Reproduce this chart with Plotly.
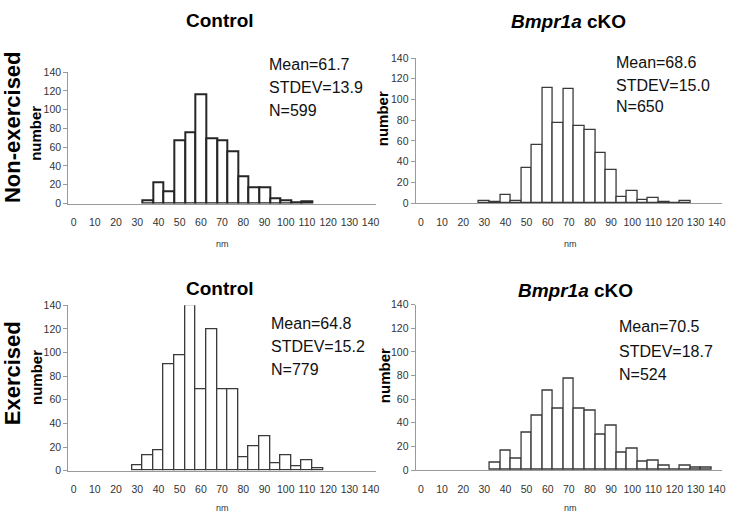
import plotly.graph_objects as go

W, H = 731, 520

# ---- data (bin centres in nm, counts) ----
bins_ctrl_ne = [35, 40, 45, 50, 55, 60, 65, 70, 75, 80, 85, 90, 95, 100, 105, 110]
cnt_ctrl_ne = [4, 23, 13, 68, 76, 117, 70, 68, 56, 29, 17, 17, 6, 4, 2, 3]

bins_ko_ne = [30, 35, 40, 45, 50, 55, 60, 65, 70, 75, 80, 85, 90, 95, 100, 105, 110, 115, 120, 125]
cnt_ko_ne = [2, 1, 8, 2, 34, 56, 111, 77, 110, 74, 70, 48, 32, 6, 12, 3, 5, 1, 0, 2]

bins_ctrl_ex = [30, 35, 40, 45, 50, 55, 60, 65, 70, 75, 80, 85, 90, 95, 100, 105, 110, 115]
cnt_ctrl_ex = [5, 13, 17, 90, 98, 140, 69, 120, 69, 69, 11, 21, 29, 6, 13, 4, 9, 2]

bins_ko_ex = [35, 40, 45, 50, 55, 60, 65, 70, 75, 80, 85, 90, 95, 100, 105, 110, 115, 120, 125, 130, 135]
cnt_ko_ex = [6, 16, 10, 32, 46, 67, 52, 77, 52, 50, 30, 38, 15, 18, 7, 8, 4, 0, 4, 2, 2]

x_ticks = [0, 10, 20, 30, 40, 50, 60, 70, 80, 90, 100, 110, 120, 130, 140]
y_ticks = [0, 20, 40, 60, 80, 100, 120, 140]

titles = ["<b>Control</b>", "<b><i>Bmpr1a</i> cKO</b>", "<b>Control</b>", "<b><i>Bmpr1a</i> cKO</b>"]
stats = [
    ["Mean=61.7", "STDEV=13.9", "N=599"],
    ["Mean=68.6", "STDEV=15.0", "N=650"],
    ["Mean=64.8", "STDEV=15.2", "N=779"],
    ["Mean=70.5", "STDEV=18.7", "N=524"],
]
row_labels = ["Non-exercised", "Exercised"]

NARROW = "Liberation Sans Narrow, Arial Narrow, Liberation Sans, Arial, sans-serif"
BOLD = "Liberation Sans, Arial, sans-serif"

def px_x(x):
    return x / W

def px_y(y):
    return 1 - y / H

# panel boxes in pixels: (left, right, top, bottom)
boxes = [
    (68.7, 378.0, 67.7, 202.2),
    (418.0, 726.0, 53.3, 201.7),
    (68.7, 378.0, 306.3, 475.7),
    (418.0, 726.0, 305.7, 475.0),
]

series = [
    (bins_ctrl_ne, cnt_ctrl_ne, "#262626", 2.0),
    (bins_ko_ne, cnt_ko_ne, "#3a3a3a", 1.3),
    (bins_ctrl_ex, cnt_ctrl_ex, "#3a3a3a", 1.3),
    (bins_ko_ex, cnt_ko_ex, "#3a3a3a", 1.3),
]

fig = go.Figure()
layout = dict(
    width=W, height=H, autosize=False,
    margin=dict(l=0, r=0, t=0, b=0),
    paper_bgcolor="white", plot_bgcolor="white",
    showlegend=False, bargap=0,
)

for i, ((bx, cy, lc, lw), (l, r, t, b)) in enumerate(zip(series, boxes)):
    n = "" if i == 0 else str(i + 1)
    fig.add_trace(go.Bar(
        x=bx, y=cy, width=5,
        marker=dict(color="white", line=dict(color=lc, width=lw)),
        xaxis="x" + n, yaxis="y" + n, hoverinfo="x+y", cliponaxis=True,
    ))
    layout["xaxis" + n] = dict(
        domain=[px_x(l), px_x(r)], range=[-2.5, 142.5], anchor="y" + n,
        tickmode="array", tickvals=x_ticks, ticktext=[str(v) for v in x_ticks],
        tickangle=0,
        showline=True, linecolor="#9a9a9a", linewidth=1.2, showgrid=False,
        zeroline=False, ticks="outside", ticklen=9, tickcolor="rgba(0,0,0,0)",
        tickfont=dict(family=NARROW, size=10.5, color="#333333"),
        fixedrange=True,
    )
    layout["yaxis" + n] = dict(
        domain=[px_y(b), px_y(t)], range=[0, 140], anchor="x" + n,
        tickmode="array", tickvals=y_ticks, ticktext=[str(v) for v in y_ticks],
        showline=True, linecolor="#9a9a9a", linewidth=1.2, showgrid=False,
        zeroline=False, ticks="outside", ticklen=4, tickcolor="#9a9a9a", tickwidth=1,
        tickfont=dict(family=NARROW, size=10.5, color="#333333"),
        fixedrange=True,
    )

fig.update_layout(**layout)

ann = []
def add(text, x, y, size, family, xanchor="center", textangle=0, color="black"):
    ann.append(dict(text=text, x=px_x(x), y=px_y(y), xref="paper", yref="paper",
                    showarrow=False, xanchor=xanchor, yanchor="middle",
                    textangle=textangle, font=dict(size=size, family=family, color=color)))

# titles
title_pos = [(221, 15), (572, 16), (221, 289), (579, 291)]
for txt, (x, y) in zip(titles, title_pos):
    add(txt, x, y, 19, BOLD)

# stats
stat_pos = [
    (268, [60, 83, 106.5]),
    (617, [58.3, 81.7, 103.3]),
    (270, [325, 348.3, 371.7]),
    (620, [328.3, 353.3, 376.7]),
]
for lines, (x, ys) in zip(stats, stat_pos):
    for txt, y in zip(lines, ys):
        add(txt, x, y, 16, NARROW, xanchor="left", color="#111111")

# y-axis titles
num_pos = [(35, 130), (384, 115), (36, 380), (386, 378)]
for x, y in num_pos:
    add("<b>number</b>", x, y, 15, BOLD, textangle=-90)

# x-axis titles
nm_pos = [(224, 244), (574, 244), (224, 514), (574, 514)]
for x, y in nm_pos:
    add("nm", x, y, 9, NARROW, color="#333333")

# row labels
add("<b>" + row_labels[0] + "</b>", 12, 124, 22, BOLD, textangle=-90)
add("<b>" + row_labels[1] + "</b>", 12, 376, 22, BOLD, textangle=-90)

fig.update_layout(annotations=ann)

fix_page = (
    "document.documentElement.style.margin='0';"
    "document.documentElement.style.overflow='hidden';"
    "document.body.style.margin='0';"
    "document.body.style.overflow='hidden';"
    "document.body.style.height='520px';"
    "var gd=document.querySelector('.plotly-graph-div');"
    "if(gd&&gd.parentElement){gd.parentElement.style.height='520px';"
    "gd.parentElement.style.lineHeight='0';gd.parentElement.style.overflow='hidden';}"
)
fig.write_html("out.html", config={"displayModeBar": False}, post_script=fix_page)
